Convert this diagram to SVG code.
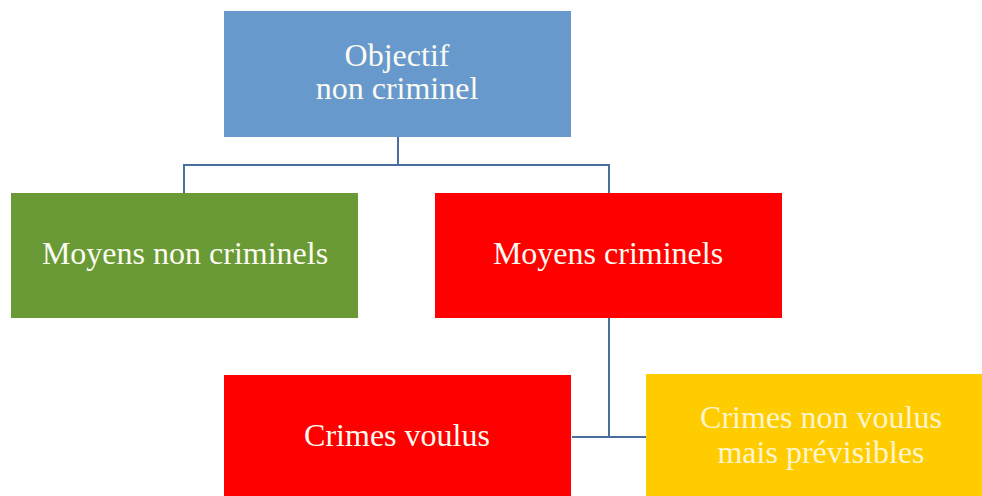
<svg xmlns="http://www.w3.org/2000/svg" width="982" height="496" viewBox="0 0 982 496">
<style>
.t{font-family:"Liberation Serif","Times New Roman",serif;font-size:32px;fill:#fbfbf2;text-anchor:middle}
.ty{fill:#fff4cc}
.c{stroke:#4a6e9e;stroke-width:2;fill:none}
</style>
<rect width="982" height="496" fill="#ffffff"/>
<g id="connectors">
<path class="c" d="M398 137V165M184 193V165H609V193"/>
<path class="c" d="M609 318V437M572 437H646"/>
</g>
<g id="objectif">
<rect x="224" y="11" width="347" height="126" fill="#6899cd"/>
<text class="t" x="397" y="66">Objectif</text>
<text class="t" x="397" y="99">non criminel</text>
</g>
<g id="moyens-non-criminels">
<rect x="11" y="193" width="347" height="125" fill="#6a9a35"/>
<text class="t" x="185" y="264">Moyens non criminels</text>
</g>
<g id="moyens-criminels">
<rect x="435" y="193" width="347" height="125" fill="#ff0000"/>
<text class="t" x="608" y="264">Moyens criminels</text>
</g>
<g id="crimes-voulus">
<rect x="224" y="375" width="347" height="121" fill="#ff0000"/>
<text class="t" x="397" y="446">Crimes voulus</text>
</g>
<g id="crimes-non-voulus">
<rect x="646" y="374" width="336" height="122" fill="#ffcc00"/>
<text class="t ty" x="821" y="428">Crimes non voulus</text>
<text class="t ty" x="821" y="463">mais prévisibles</text>
</g>
</svg>
